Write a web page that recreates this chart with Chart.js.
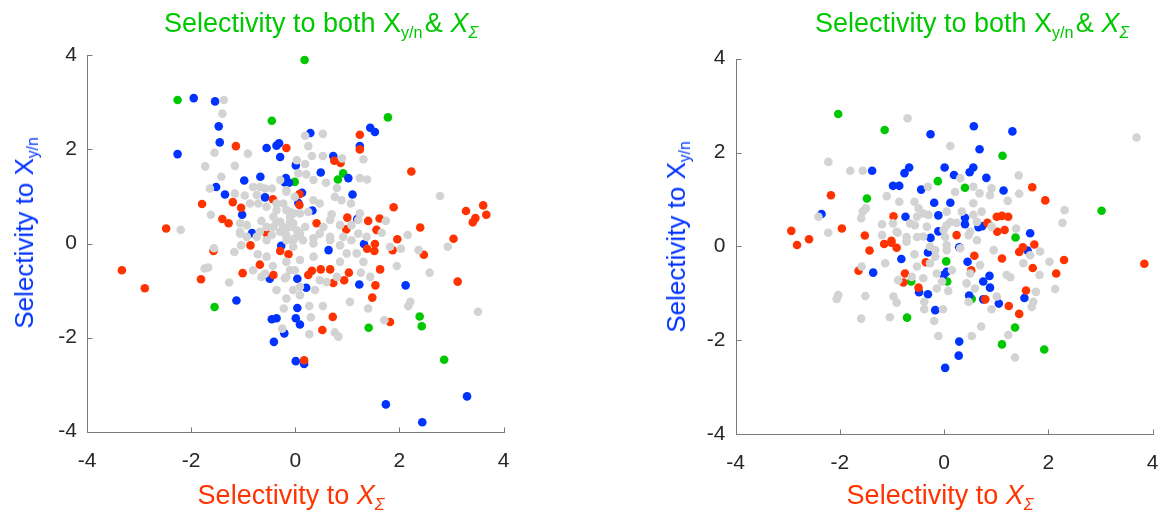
<!DOCTYPE html>
<html><head><meta charset="utf-8">
<script src="https://cdn.jsdelivr.net/npm/chart.js@4/dist/chart.umd.min.js"></script>
<style>
html,body{margin:0;padding:0;background:#fff;}
body{width:1164px;height:518px;position:relative;overflow:hidden;font-family:"Liberation Sans",Arial,Helvetica,sans-serif;}
canvas{position:absolute;top:0;}
.lbl{position:absolute;white-space:nowrap;font-size:27px;line-height:1;transform:translate(-50%,-50%);}
.title{color:#00c800;}
.xl{color:#ff3300;}
.yl{color:#0033ff;transform:translate(-50%,-50%) rotate(-90deg);font-size:26px;}
sub{font-size:60%;vertical-align:baseline;position:relative;top:0.35em;}
</style>
</head><body>
<canvas id="c1" width="582" height="518" style="left:0"></canvas>
<canvas id="c2" width="582" height="518" style="left:582px"></canvas>
<div class="lbl title" style="left:321px;top:23px">Selectivity to both X<sub>y/n</sub>&#8202;&amp; <i>X<sub>Σ</sub></i></div>
<div class="lbl title" style="left:972px;top:23px">Selectivity to both X<sub>y/n</sub>&#8202;&amp; <i>X<sub>Σ</sub></i></div>
<div class="lbl xl" style="left:291px;top:495px">Selectivity to <i>X<sub>Σ</sub></i></div>
<div class="lbl xl" style="left:940px;top:495px">Selectivity to <i>X<sub>Σ</sub></i></div>
<div class="lbl yl" style="left:24px;top:233px">Selectivity to X<sub>y/n</sub></div>
<div class="lbl yl" style="left:676px;top:237px">Selectivity to X<sub>y/n</sub></div>
<script>
const tickValues = [-4, -2, 0, 2, 4];

// ---- Left panel ----
const leftGray = [[-1.37,3.05],[-1.40,2.76],[-1.55,1.93],[-0.91,1.91],[-1.73,1.64],[-1.16,1.65],[-1.42,1.42],[-0.29,1.35],[-1.64,1.17],[-1.16,1.06],[-0.97,1.02],[-1.62,0.61],[-2.20,0.29],[-0.65,0.48],[-0.68,1.20],[-0.58,1.17],[-0.87,0.85],[-0.36,0.71],[-0.23,0.85],[-0.36,0.46],[-0.10,0.57],[0.03,1.77],[0.06,1.49],[-0.17,1.13],
[0.19,2.29],[0.53,2.33],[0.25,2.07],[0.32,1.86],[0.53,1.86],[0.90,1.81],[0.19,1.69],[0.21,1.47],[1.24,1.39],[1.38,1.36],[0.35,1.35],[0.59,1.29],[0.80,1.18],[2.78,1.01],[1.31,1.79],[0.70,0.62],[2.16,0.18],
[2.93,-0.07],[2.37,-0.14],[2.03,-0.11],[2.58,-0.62],[3.51,-1.45],[1.95,-0.48],[1.26,-0.62],[1.05,-1.24],[1.40,-1.38],[2.21,-1.24],[2.17,-1.33],[1.71,-1.63],[-0.17,-1.17],[0.27,-1.33],[0.53,-1.33],[0.30,-1.57],[0.27,-1.93],[0.76,-1.89],[0.83,-1.98],[0.09,-1.10],[1.44,-0.71],
[-1.56,-0.10],[-1.17,-0.18],[-1.04,-0.04],[-1.74,-0.53],[-1.67,-0.51],[-1.27,-0.83],[-0.72,-0.23],[-0.43,-0.48],[-0.36,-0.99],[-0.22,-1.38],[-0.25,-1.81],
[-0.17,1.10],[-0.10,0.67],[0.09,0.64],[0.25,0.67],[0.35,0.92],[0.47,0.85],[0.76,0.99],[0.89,0.92],[1.07,0.85],[-0.10,0.46],[-0.20,0.21],[0.03,0.28],[0.19,0.35],[0.54,0.35],[0.67,0.50],[0.35,0.11],[0.67,0.14],[0.92,0.14],[1.21,0.50],[1.24,0.64],[1.74,0.48],[1.66,0.23],[1.21,0.21],[1.37,0.14],[1.08,0.39],[0.86,0.39],[-0.01,0.11],
[-0.23,0.35],[-0.04,0.43],[0.09,0.21],[-0.04,0.07],[0.15,0.07],[0.35,0.00],[0.47,0.21],[0.67,0.07],[0.86,-0.04],[0.99,-0.21],[1.08,0.07],[1.18,-0.21],[1.31,-0.39],[0.86,-0.39],[0.80,-0.71],[0.47,-0.78],[0.35,-0.28],[0.09,-0.35],[-0.10,-0.57],[-0.17,-0.71],[0.09,-0.92],[0.38,-0.99],[0.60,-0.82],[1.82,-0.07],
[-0.81,1.20],[-0.74,1.03],[-0.71,0.85],[-0.55,0.78],[-0.36,0.85],[-0.17,0.71],[-0.04,0.64],[-0.42,0.57],[-0.29,0.46],[-0.55,0.35],[-0.68,0.25],[-0.93,0.39],[-1.06,0.25],[-0.29,0.25],[-0.17,0.18],[-0.74,0.14],[-0.45,0.18],[-0.01,0.99],[-0.45,1.17],
[-1.06,0.43],[-0.42,0.35],[-0.10,0.35],[-0.55,0.07],[-0.17,0.07],[-0.04,-0.07],[-0.55,-0.28],[-0.17,-0.39],[-0.01,-0.57],[-0.81,-0.57],[-0.65,-0.71],[-0.58,-0.64],[-0.20,-0.74],[-0.04,-0.99],[-1.06,0.21],[-0.93,0.14]];
const leftRed = [[-1.14,2.07],[-0.17,2.03],[-0.43,0.94],[-1.20,0.88],[-1.04,0.76],[-1.79,0.84],[-1.40,0.52],[-1.28,0.43],[-2.48,0.32],[-0.54,0.20],[0.08,1.05],[1.24,2.31],[1.24,2.00],[0.75,1.76],[0.87,1.71],[2.23,1.53],[0.08,0.82],[1.89,0.77],[3.28,0.69],[3.61,0.81],[3.67,0.61],[3.46,0.54],[3.41,0.45],[1.00,0.55],[1.40,0.48],[1.62,0.53],[0.41,0.43],[0.98,0.30],[1.56,0.29],[2.40,0.34],[1.96,0.09],[3.04,0.10],
[1.53,-0.01],[1.38,-0.11],[1.52,-0.16],[1.87,-0.14],[2.47,-0.24],[3.12,-0.81],[-0.13,-0.23],[0.49,-0.55],[0.67,-0.55],[0.32,-0.58],[0.25,-0.67],[1.03,-0.62],[0.94,-0.78],[0.73,-0.84],[1.63,-0.55],[1.54,-0.89],[1.48,-1.15],[0.72,-1.56],[1.82,-1.67],[0.52,-1.84],[0.17,-2.48],
[-0.86,-0.04],[-1.57,-0.16],[-0.29,-0.16],[-3.33,-0.57],[-2.89,-0.95],[-1.81,-0.76],[-1.01,-0.63],[-0.68,-0.45],[-0.42,-0.67]];
const leftBlue = [[-1.95,3.09],[-1.54,3.02],[-1.47,2.49],[-1.45,2.15],[-2.26,1.90],[-0.55,2.03],[-0.36,2.08],[-0.31,2.13],[-0.29,1.84],[0.01,1.66],[-0.67,1.42],[-0.98,1.34],[-0.18,1.39],[-0.20,1.30],[-0.12,1.29],[-1.52,1.20],[-1.35,1.04],[-0.58,0.98],[-1.02,0.61],[-0.83,0.22],[0.06,0.86],
[1.44,2.46],[1.53,2.37],[1.24,2.07],[0.29,2.35],[0.73,1.86],[0.49,1.51],[1.02,1.39],[0.13,1.08],[1.10,1.04],[0.33,0.70],[1.19,0.52],
[1.32,-0.01],[0.64,-0.14],[-0.27,-0.05],[1.23,-0.87],[2.12,-0.89],[3.30,-3.25],[1.74,-3.42],[2.44,-3.80],[0.01,-2.50],[0.17,-2.56],[0.04,-0.75],[0.21,-0.94],[0.04,-1.37],[0.01,-1.59],[0.09,-1.72],[-0.21,-1.91],
[-0.49,-0.75],[-1.13,-1.21],[-0.45,-1.61],[-0.36,-1.59],[-0.41,-2.09]];
const leftGreen = [[-2.26,3.05],[-0.45,2.61],[-0.01,1.31],[0.18,3.90],[1.78,2.68],[0.92,1.49],[0.82,1.36],[1.41,-1.79],[2.39,-1.55],[2.43,-1.76],[2.86,-2.47],[-1.55,-1.35]];

// ---- Right panel ----
const rightGray = [[-0.70,2.73],[0.12,2.14],[-2.22,1.80],[-1.80,1.61],[-1.56,1.61],[-0.31,1.27],[-1.10,1.07],[-0.86,0.95],[-0.57,0.95],[-1.56,0.74],[-1.59,0.60],[-1.50,0.81],[-2.41,0.63],[-2.22,0.29],
[3.69,2.32],[0.31,1.45],[0.21,1.16],[0.56,1.27],[0.68,1.13],[0.91,1.24],[0.88,1.09],[0.56,0.92],[1.43,1.51],[1.44,1.12],[1.22,0.97],[2.31,0.77],[2.27,0.50],[1.38,0.38],
[-1.19,0.24],[-0.89,0.29],[-0.72,0.10],[-0.57,-0.17],[-0.40,0.21],[-0.27,-0.01],[-0.17,-0.22],[-0.52,-0.43],[-0.62,-0.65],[-0.88,-0.72],[-0.40,-0.68],[-0.14,-0.90],[-0.38,-1.18],[-0.38,-1.34],[-0.19,-1.59],[-0.11,-1.91],[-0.97,-1.07],[-0.91,-1.20],[-1.04,-1.51],[-1.59,-1.54],[-1.51,-1.06],[-2.03,-1.04],[-2.06,-1.12],[-1.58,-0.43],[-1.13,-0.36],
[2.02,-0.33],[1.83,-0.61],[2.13,-0.91],[1.52,-0.36],[1.76,-0.97],[1.71,-1.18],[1.68,-1.29],[1.20,-0.61],[1.27,-0.66],[1.01,-1.07],[0.91,-1.34],[0.71,-1.71],[0.53,-1.91],[-0.02,-1.34],[1.23,-1.89],[1.36,-2.37],[0.43,-0.79],[0.59,-0.90],[0.69,-0.40],[0.50,-0.58],[0.95,-0.08],[0.63,0.13],[0.47,0.24],[0.05,0.03],[0.31,-0.04],[-0.17,-0.08],[0.08,-0.95],[0.47,-1.18],[0.15,-0.51],[-0.14,-0.58],[-0.04,-0.75],[1.84,-0.11],[1.65,-0.19],
[-0.49,0.81],[-0.40,0.70],[-0.30,0.67],[-0.52,0.63],[-0.65,0.49],[-0.56,0.45],[-0.33,0.42],[-0.52,0.20],[-0.72,0.20],[-0.91,0.31],[-1.19,0.47],[-0.98,0.49],[0.05,0.74],[0.05,0.45],
[0.34,0.74],[0.72,0.74],[0.56,0.67],[0.12,0.52],[0.24,0.50],[0.63,0.52],[0.91,0.42],[0.50,0.31],[0.02,0.20],[-0.01,0.35],[0.05,-0.08],[-0.27,-0.36]];
const rightRed = [[-2.17,1.09],[-0.97,0.64],[-2.93,0.33],[-1.96,0.38],[-2.59,0.15],[-1.52,0.23],[-1.01,0.12],[1.69,1.26],[1.94,0.98],[1.01,0.63],[1.11,0.65],[1.23,0.63],[0.83,0.50],[1.02,0.31],[1.16,0.35],[0.24,0.24],
[-2.82,0.03],[-1.43,-0.09],[-1.15,0.05],[-1.01,0.08],[-0.91,-0.03],[-0.35,-0.34],[-1.64,-0.52],[-0.75,-0.58],[-0.78,-0.77],[-0.49,-0.88],
[1.73,0.04],[1.51,-0.02],[1.44,-0.12],[2.30,-0.29],[3.84,-0.37],[2.15,-0.58],[1.70,-0.46],[0.58,-0.20],[1.11,-0.26],[0.52,-0.51],[0.79,-1.13],[1.24,-1.27],[1.57,-0.94],[1.44,-1.44]];
const rightBlue = [[-0.26,2.39],[-1.38,1.61],[-0.67,1.68],[-0.76,1.56],[0.01,1.68],[-0.98,1.29],[-0.86,1.29],[-0.44,1.21],[-0.19,0.93],[0.12,0.93],[-2.35,0.69],[-0.74,0.63],[-0.11,0.66],[-0.11,0.32],[-0.26,0.18],
[0.57,2.56],[1.31,2.45],[0.68,2.07],[0.56,1.68],[0.49,1.58],[0.19,1.52],[0.81,1.46],[1.14,1.19],[0.40,0.61],[0.40,0.47],[0.66,0.41],[0.73,0.43],[1.65,0.28],
[-0.31,-0.13],[-0.82,-0.27],[-1.36,-0.56],[-0.48,-0.98],[-0.31,-1.02],[-0.01,-0.61],[0.05,-0.54],[-0.17,-1.36],[0.02,-2.59],
[1.60,-0.09],[0.29,-0.02],[0.45,-0.33],[0.87,-0.63],[0.75,-0.75],[0.88,-0.88],[0.48,-1.05],[0.75,-1.13],[1.05,-1.22],[1.54,-1.10],[0.29,-2.03],[0.28,-2.33]];
const rightGreen = [[-2.03,2.82],[-1.14,2.48],[-0.12,1.39],[-1.48,1.02],[1.12,1.93],[0.40,1.25],[3.02,0.76],[1.37,0.19],[0.04,-0.32],[-0.63,-0.75],[0.06,-0.75],[-0.71,-1.52],[0.53,-1.12],[1.36,-1.73],[1.11,-2.09],[1.92,-2.20]];

const COLORS = {gray:'#d3d3d3', red:'#ff3300', blue:'#0033ff', green:'#00c800'};
const AXIS = '#7a7a7a';

const axesPlugin = {
  id:'axesPlugin',
  afterDatasetsDraw(chart){
    const {ctx, chartArea:a, scales:{x,y}} = chart;
    ctx.save();
    ctx.strokeStyle = AXIS; ctx.lineWidth = 1;
    ctx.beginPath();
    const L = Math.round(a.left)+0.5, B = Math.round(a.bottom)+0.5;
    ctx.moveTo(L, Math.round(a.top)); ctx.lineTo(L, B);
    ctx.lineTo(Math.round(a.right)+1, B);
    tickValues.forEach(v=>{
      const px = Math.round(x.getPixelForValue(v))+0.5;
      ctx.moveTo(px, B); ctx.lineTo(px, B-5);
      const py = Math.round(y.getPixelForValue(v))+0.5;
      ctx.moveTo(L, py); ctx.lineTo(L+5, py);
    });
    ctx.stroke();
    ctx.restore();
  }
};

function toPts(arr){ return arr.map(p=>({x:p[0], y:p[1]})); }

function makeChart(id, box, series){
  const ds = [
    ['gray', series.gray], ['red', series.red], ['blue', series.blue], ['green', series.green]
  ].map(([c, d])=>({
    data: toPts(d), backgroundColor: COLORS[c], borderWidth: 0,
    pointRadius: 4.3, pointHoverRadius: 4.3
  }));
  const tickFont = {family:'"Liberation Sans", Arial, Helvetica, sans-serif', size:21};
  return new Chart(document.getElementById(id), {
    type:'scatter',
    data:{datasets: ds},
    options:{
      responsive:false, animation:false, events:[],
      layout:{padding:{top:box.top, right:box.right, left:0, bottom:0}},
      plugins:{legend:{display:false}, tooltip:{enabled:false}, title:{display:false}},
      scales:{
        x:{type:'linear', min:-4, max:4,
           grid:{display:false, drawTicks:false}, border:{display:false},
           afterBuildTicks:s=>{ s.ticks = tickValues.map(v=>({value:v})); },
           afterFit:s=>{ s.height = box.bottomH; s.paddingLeft = 0; s.paddingRight = 0; },
           ticks:{color:'#262626', font:tickFont, padding:17, maxRotation:0, autoSkip:false,
                  callback:v=>String(v)}},
        y:{type:'linear', min:-4, max:4,
           grid:{display:false, drawTicks:false}, border:{display:false},
           afterBuildTicks:s=>{ s.ticks = tickValues.map(v=>({value:v})); },
           afterFit:s=>{ s.width = box.left; s.paddingTop = 0; s.paddingBottom = 0; },
           ticks:{color:'#262626', font:tickFont, padding:10, autoSkip:false,
                  callback:v=>String(v)}}
      }
    },
    plugins:[axesPlugin]
  });
}

makeChart('c1', {left:87, right:78.5, top:55.3, bottomH:86.3},
  {gray:leftGray, red:leftRed, blue:leftBlue, green:leftGreen});
makeChart('c2', {left:153.5, right:11.3, top:58.7, bottomH:84},
  {gray:rightGray, red:rightRed, blue:rightBlue, green:rightGreen});
</script>
</body></html>
